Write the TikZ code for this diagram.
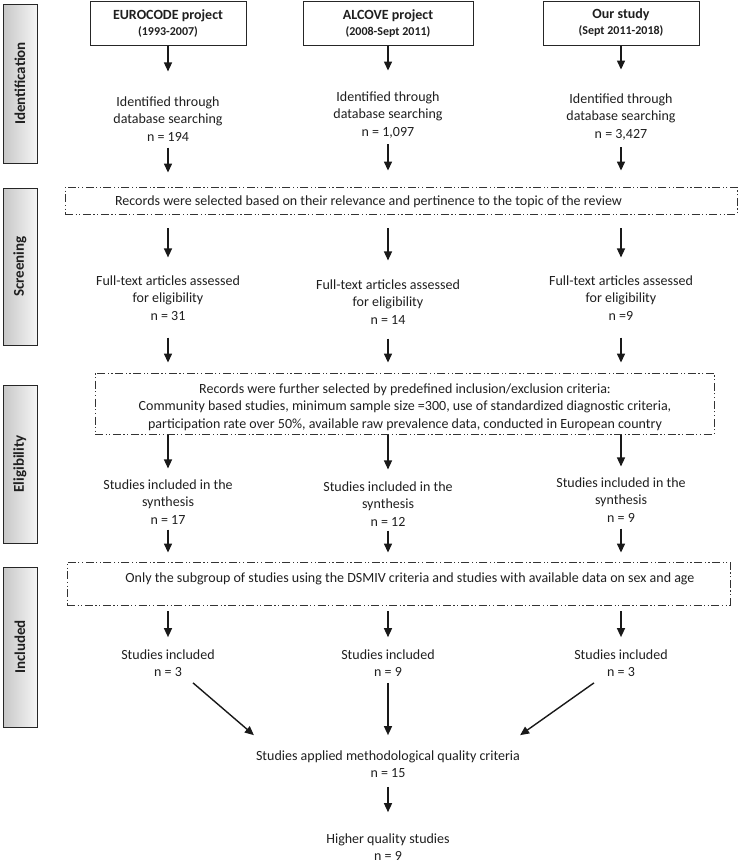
\documentclass[tikz,border=0pt]{standalone}
\usepackage{fontspec}
\setmainfont{Carlito}
\usetikzlibrary{arrows.meta}
\newcommand\mysubfont{\fontsize{12}{15}\selectfont\bfseries}
\begin{document}
\begin{tikzpicture}[x=1pt,y=-1pt,
  every node/.style={font=\fontsize{14}{17.5}\selectfont, text=black!88},
  txt/.style={align=center, inner sep=0pt},
  topbox/.style={draw=black!85, line width=1pt, minimum height=44pt, inner sep=0pt, align=center,
    font=\fontsize{14}{15}\selectfont\bfseries},
  sidebox/.style={draw=black!85, line width=1pt, left color=black!22, right color=black!4,
    minimum width=34pt, inner sep=0pt, font=\fontsize{15}{17}\selectfont\bfseries},
  ddbox/.style={draw=black!80, line width=0.9pt,
    dash pattern=on 8pt off 2.5pt on 1.2pt off 2.5pt on 1.2pt off 2.5pt, inner sep=0pt},
  arr/.style={line width=1.4pt, draw=black!90, -{Triangle[length=9pt,width=8pt]}},
]
\useasboundingbox (0,0) rectangle (739,863);

% side labels
\node[sidebox, minimum height=159pt] (sIdent) at (20,83.5) {\rotatebox{90}{Identification}};
\node[sidebox, minimum height=157pt] (sScreen) at (20,266.5) {\rotatebox{90}{Screening}};
\node[sidebox, minimum height=158pt] (sElig) at (20,464) {\rotatebox{90}{Eligibility}};
\node[sidebox, minimum height=160pt] (sIncl) at (20,647) {\rotatebox{90}{Included}};

% top boxes
\node[topbox, minimum width=156pt] (top1) at (168,23) {EUROCODE project\\[1pt]{\mysubfont (1993-2007)}};
\node[topbox, minimum width=170pt] (top2) at (388,23.5) {ALCOVE project\\[1pt]{\mysubfont (2008-Sept 2011)}};
\node[topbox, minimum width=156pt] (top3) at (621,23) {Our study\\[1pt]{\mysubfont (Sept 2011-2018)}};

% identification
\node[txt] (id1) at (168,119) {Identified through\\database searching\\n = 194};
\node[txt] (id2) at (388,115) {Identified through\\database searching\\n = 1,097};
\node[txt] (id3) at (621,117) {Identified through\\database searching\\n = 3,427};

% screening box
\node[ddbox, minimum width=672pt, minimum height=27pt] (sel) at (401,200.5) {};
\node[txt] (selt) at (368.5,202) {Records were selected based on their relevance and pertinence to the topic of the review};

\node[txt] (ft1) at (168,298) {Full-text articles assessed\\for eligibility\\n = 31};
\node[txt] (ft2) at (388,302) {Full-text articles assessed\\for eligibility\\n = 14};
\node[txt] (ft3) at (621,298) {Full-text articles assessed\\for eligibility\\n =9};

% eligibility box
\node[ddbox, minimum width=619pt, minimum height=61pt] (crit) at (404.5,403.5) {};
\node[txt] (critt) at (405,407) {Records were further selected by predefined inclusion/exclusion criteria:\\
Community based studies, minimum sample size =300, use of standardized diagnostic criteria,\\
participation rate over 50\%, available raw prevalence data, conducted in European country};

\node[txt] (sy1) at (168,502) {Studies included in the\\synthesis\\n = 17};
\node[txt] (sy2) at (388,504) {Studies included in the\\synthesis\\n = 12};
\node[txt] (sy3) at (621,500) {Studies included in the\\synthesis\\n = 9};

% included box
\node[ddbox, minimum width=663pt, minimum height=43pt] (subg) at (398.5,583.5) {};
\node[txt] (subgt) at (410,579) {Only the subgroup of studies using the DSMIV criteria and studies with available data on sex and age};

\node[txt] (inc1) at (168,663) {Studies included\\n = 3};
\node[txt] (inc2) at (388,663) {Studies included\\n = 9};
\node[txt] (inc3) at (621,663) {Studies included\\n = 3};

\node[txt] (final) at (388,764) {Studies applied methodological quality criteria\\n = 15};
\node[txt] (hq) at (388,847) {Higher quality studies\\n = 9};

% arrows
\draw[arr, shorten >=25pt] (top1.south) -- (top1.south |- id1.north);
\draw[arr, shorten >=21pt] (top2.south) -- (top2.south |- id2.north);
\draw[arr, shorten >=24pt] (top3.south) -- (top3.south |- id3.north);

\draw[arr, shorten <=6pt, shorten >=14pt] (id1.south) -- (id1.south |- sel.north);
\draw[arr, shorten <=6pt, shorten >=16pt] (id2.south) -- (id2.south |- sel.north);
\draw[arr, shorten <=7pt, shorten >=16pt] (id3.south) -- (id3.south |- sel.north);

\draw[arr, shorten <=14pt, shorten >=18pt] (ft1.north |- sel.south) -- (ft1.north);
\draw[arr, shorten <=14pt, shorten >=19pt] (ft2.north |- sel.south) -- (ft2.north);
\draw[arr, shorten <=14pt, shorten >=18pt] (ft3.north |- sel.south) -- (ft3.north);

\draw[arr, shorten <=17pt, shorten >=10pt] (ft1.south) -- (ft1.south |- crit.north);
\draw[arr, shorten <=14pt, shorten >=10pt] (ft2.south) -- (ft2.south |- crit.north);
\draw[arr, shorten <=17pt, shorten >=10pt] (ft3.south) -- (ft3.south |- crit.north);

\draw[arr, shorten <=1pt, shorten >=11pt] (sy1.north |- crit.south) -- (sy1.north);
\draw[arr, shorten <=1pt, shorten >=12pt] (sy2.north |- crit.south) -- (sy2.north);
\draw[arr, shorten <=1pt, shorten >=11pt] (sy3.north |- crit.south) -- (sy3.north);

\draw[arr, shorten <=5pt, shorten >=9pt] (sy1.south) -- (sy1.south |- subg.north);
\draw[arr, shorten <=4pt, shorten >=9pt] (sy2.south) -- (sy2.south |- subg.north);
\draw[arr, shorten <=6pt, shorten >=9pt] (sy3.south) -- (sy3.south |- subg.north);

\draw[arr, shorten <=6pt, shorten >=12pt] (inc1.north |- subg.south) -- (inc1.north);
\draw[arr, shorten <=6pt, shorten >=12pt] (inc2.north |- subg.south) -- (inc2.north);
\draw[arr, shorten <=6pt, shorten >=12pt] (inc3.north |- subg.south) -- (inc3.north);

\draw[arr] ([xshift=25pt,yshift=-6pt]inc1.south) -- ([xshift=-2pt,yshift=15pt]final.north west);
\draw[arr, shorten <=6pt, shorten >=15pt] (inc2.south) -- (inc2.south |- final.north);
\draw[arr] ([xshift=-27pt,yshift=-6pt]inc3.south) -- ([yshift=15pt]final.north east);

\draw[arr, shorten <=9pt, shorten >=21pt] (final.south) -- (hq.north);
\end{tikzpicture}
\end{document}
